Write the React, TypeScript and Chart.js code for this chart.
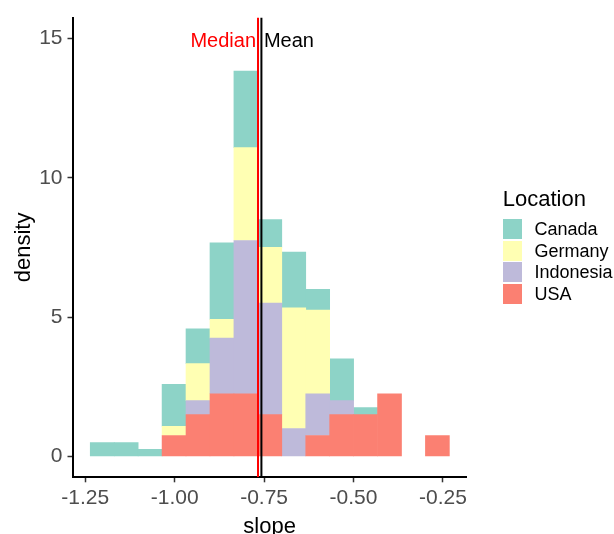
import React, { useEffect, useRef } from "react";
import { Chart, registerables } from "chart.js";

Chart.register(...registerables);

const FONT = "'Liberation Sans', Arial, Helvetica, sans-serif";

// histogram bin centres (slope)
const binCenters = [
  -1.2025, -1.1355, -1.0686, -1.0017, -0.9348, -0.8678, -0.8009, -0.734,
  -0.667, -0.6001, -0.5332, -0.4663, -0.3993, -0.3324, -0.2655,
];

// density per location (ggplot stacked histogram)
const usaDensity = [0, 0, 0, 0.75, 1.5, 2.25, 2.25, 1.5, 0, 0.75, 1.5, 1.5, 2.25, 0, 0.75];
const indonesiaDensity = [0, 0, 0, 0, 0.5, 2.0, 5.5, 4.0, 1.0, 1.5, 0.5, 0, 0, 0, 0];
const germanyDensity = [0, 0, 0, 0.333, 1.333, 0.667, 3.333, 2.0, 4.333, 3.0, 0, 0, 0, 0, 0];
const canadaDensity = [0.5, 0.5, 0.25, 1.5, 1.25, 2.75, 2.75, 1.0, 2.0, 0.75, 1.5, 0.25, 0, 0, 0];

const legendLabels = ["Canada", "Germany", "Indonesia", "USA"];
const legendColors = ["#8DD3C7", "#FFFFB3", "#BEBADA", "#FB8072"];

const xTickValues = [-1.25, -1.0, -0.75, -0.5, -0.25];
const xTickLabels = ["-1.25", "-1.00", "-0.75", "-0.50", "-0.25"];
const yTickValues = [0, 5, 10, 15];
const yTickLabels = ["0", "5", "10", "15"];

const medianSlope = -0.767;
const meanSlope = -0.7575;
const refLabelY = 15;

const xMin = -1.2856;
const xMax = -0.1836;
const yMin = -0.75;
const yMax = 15.75;

const refLabelsPlugin = {
  id: "refLabels",
  afterDatasetsDraw(chart: any) {
    const { ctx, scales } = chart;
    const x = scales.x;
    const y = scales.y;
    const py = y.getPixelForValue(refLabelY);
    ctx.save();
    ctx.font = `20px ${FONT}`;
    ctx.textBaseline = "alphabetic";
    ctx.fillStyle = "#FF0000";
    ctx.textAlign = "right";
    ctx.fillText("Median", x.getPixelForValue(medianSlope) - 2, py + 9);
    ctx.fillStyle = "#000000";
    ctx.textAlign = "left";
    ctx.fillText("Mean", x.getPixelForValue(meanSlope) + 2.5, py + 9);
    ctx.restore();
  },
};

export default function App() {
  const canvasRef = useRef<HTMLCanvasElement | null>(null);

  useEffect(() => {
    if (!canvasRef.current) return;
    // empty bins are left out so no zero-height sliver is drawn
    const toPoints = (vals: number[]) =>
      vals.map((v, i) => ({ x: binCenters[i], y: v === 0 ? null : v }));
    const barDs = (label: string, vals: number[], color: string) => ({
      type: "bar" as const,
      label,
      data: toPoints(vals),
      backgroundColor: color,
      borderWidth: 0,
      barPercentage: 1,
      categoryPercentage: 1,
      stack: "hist",
      order: 1,
    });
    const chart = new Chart(canvasRef.current, {
      type: "bar",
      data: {
        datasets: [
          barDs("USA", usaDensity, legendColors[3]),
          barDs("Indonesia", indonesiaDensity, legendColors[2]),
          barDs("Germany", germanyDensity, legendColors[1]),
          barDs("Canada", canadaDensity, legendColors[0]),
          {
            type: "line" as const,
            label: "Mean",
            data: [
              { x: meanSlope, y: yMin },
              { x: meanSlope, y: yMax },
            ],
            borderColor: "#000000",
            borderWidth: 2,
            pointRadius: 0,
            stack: "mean",
            order: 0,
          },
          {
            type: "line" as const,
            label: "Median",
            data: [
              { x: medianSlope, y: yMin },
              { x: medianSlope, y: yMax },
            ],
            borderColor: "#FF0000",
            borderWidth: 2,
            pointRadius: 0,
            stack: "median",
            order: 0,
          },
        ] as any,
      },
      options: {
        animation: false,
        responsive: false,
        devicePixelRatio: 1,
        layout: { padding: { left: 0, right: 147.3, top: 13.3, bottom: 0 } },
        plugins: {
          legend: { display: false },
          tooltip: { enabled: false },
        },
        scales: {
          x: {
            type: "linear",
            stacked: true,
            offset: false,
            min: xMin,
            max: xMax,
            afterBuildTicks: (scale: any) => {
              scale.ticks = xTickValues.map((v) => ({ value: v }));
            },
            afterFit: (scale: any) => {
              scale.height = 56.7;
            },
            ticks: {
              autoSkip: false,
              maxRotation: 0,
              padding: 3.5,
              color: "#4D4D4D",
              font: { family: FONT, size: 21 },
              callback: (v: any) => {
                const i = xTickValues.findIndex((t) => Math.abs(t - Number(v)) < 1e-9);
                return i >= 0 ? xTickLabels[i] : "";
              },
            },
            grid: {
              offset: false,
              drawOnChartArea: false,
              drawTicks: true,
              tickLength: 5,
              tickColor: "#333333",
              tickWidth: 1.5,
            },
            border: { display: true, color: "#000000", width: 2 },
            title: {
              display: true,
              text: "slope",
              color: "#000000",
              font: { family: FONT, size: 22, lineHeight: 0.65 },
              padding: { top: 0, bottom: 0 },
            },
          },
          y: {
            type: "linear",
            stacked: true,
            min: yMin,
            max: yMax,
            beginAtZero: false,
            afterBuildTicks: (scale: any) => {
              scale.ticks = yTickValues.map((v) => ({ value: v }));
            },
            afterFit: (scale: any) => {
              scale.width = 72.5;
            },
            ticks: {
              autoSkip: false,
              padding: 5,
              color: "#4D4D4D",
              font: { family: FONT, size: 21 },
              callback: (v: any) => {
                const i = yTickValues.findIndex((t) => Math.abs(t - Number(v)) < 1e-9);
                return i >= 0 ? yTickLabels[i] : "";
              },
            },
            grid: {
              drawOnChartArea: false,
              drawTicks: true,
              tickLength: 5,
              tickColor: "#333333",
              tickWidth: 1.5,
            },
            border: { display: true, color: "#000000", width: 2 },
            title: {
              display: true,
              text: "density",
              color: "#000000",
              font: { family: FONT, size: 22, lineHeight: 1.2 },
              padding: { top: 11, bottom: 0 },
            },
          },
        },
      } as any,
      plugins: [refLabelsPlugin],
    });
    return () => chart.destroy();
  }, []);

  return (
    <div
      style={{
        position: "fixed",
        left: 0,
        top: 0,
        width: 614,
        height: 534,
        background: "#FFFFFF",
        overflow: "hidden",
      }}
    >
      <canvas ref={canvasRef} width={614} height={534} style={{ position: "absolute", left: 0, top: 0 }} />
      <div
        style={{
          position: "absolute",
          left: 502.7,
          top: 188,
          fontFamily: FONT,
          fontSize: 22,
          lineHeight: "22px",
          color: "#000000",
          whiteSpace: "nowrap",
        }}
      >
        Location
      </div>
      {legendLabels.map((lab, i) => (
        <React.Fragment key={lab}>
          <div
            style={{
              position: "absolute",
              left: 502.5,
              top: 219 + i * 21.67,
              width: 19.5,
              height: 20,
              background: legendColors[i],
            }}
          />
          <div
            style={{
              position: "absolute",
              left: 534.5,
              top: 219 + i * 21.67,
              height: 20,
              fontFamily: FONT,
              fontSize: 18,
              lineHeight: "20px",
              color: "#000000",
              whiteSpace: "nowrap",
            }}
          >
            {lab}
          </div>
        </React.Fragment>
      ))}
    </div>
  );
}
